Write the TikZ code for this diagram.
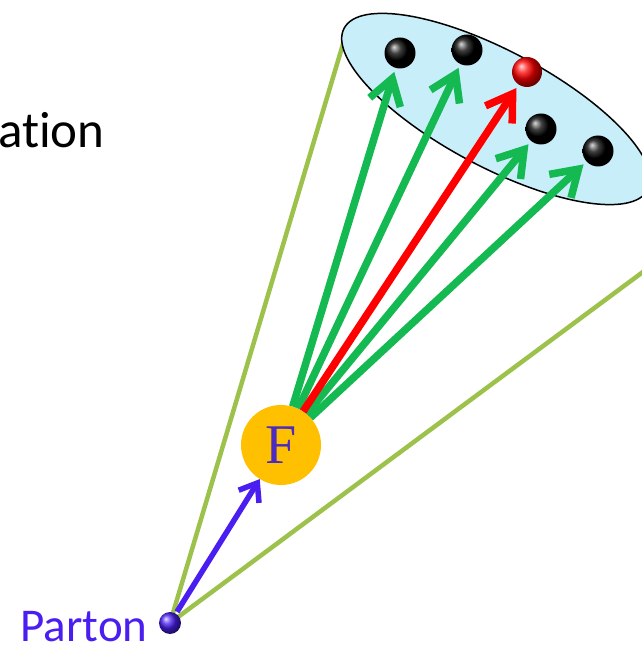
\documentclass[tikz,border=0pt]{standalone}
\usepackage{fontspec}
\newfontfamily\calibri[Ligatures={NoCommon,NoRequired,NoContextual}]{Carlito}
\newfontfamily\cambria{Liberation Serif}
\usetikzlibrary{arrows.meta,positioning}
\definecolor{conegreen}{HTML}{9DC24C}
\definecolor{jetgreen}{HTML}{14B952}
\definecolor{partonblue}{HTML}{4A1EF0}
\definecolor{fletter}{HTML}{4B2BC0}
\definecolor{fgold}{HTML}{FFC000}
\definecolor{hadronsky}{HTML}{C8EEFA}
\tikzset{
  cone/.style={conegreen,line width=4.5pt},
  hadron/.style={circle,minimum size=31pt,inner sep=0,shading=ball,ball color=black},
  jet/.style={jetgreen,line width=7.5pt,-{Straight Barb[length=25pt,width=32pt]},shorten >=4pt},
  pjet/.style={partonblue,line width=5.5pt,-{Straight Barb[length=16pt,width=24pt]},shorten <=2pt},
  fnode/.style={circle,fill=fgold,minimum size=80pt,inner sep=0,text=fletter,font=\cambria\fontsize{56}{56}\selectfont},
  lbl/.style={inner sep=0,font=\calibri\fontsize{47}{56}\selectfont}
}
\begin{document}
\begin{tikzpicture}[x=1pt,y=1pt]
\useasboundingbox (0,0) rectangle (642,645);
\clip (0,0) rectangle (642,645);
% cone
\coordinate (p) at (170,22);
\draw[cone] (p) -- (349,621);
\draw[cone] (p) -- (690,408);
% hadron cloud
\draw[line width=1.5pt,fill=hadronsky,rotate around={-28:(496,536)}] (496,536) ellipse (172pt and 58pt);
\node[hadron] (h1) at (400,592) {};
\node[hadron] (h2) at (467,595) {};
\node[hadron,ball color=red,minimum size=30pt] (h3) at (527,573) {};
\node[hadron] (h4) at (541,516) {};
\node[hadron] (h5) at (598,494) {};
% fragmentation
\node[fnode] (F) at (281,200) {F};
\draw[jet] (F) -- (h1);
\draw[jet] (F) -- (h2);
\draw[jet] (F) -- (h4);
\draw[jet] (F) -- (h5);
\draw[jet,red] (F) -- (h3);
% parton
\node[circle,minimum size=22pt,inner sep=0,shading=ball,ball color=partonblue] (P) at (p) {};
\draw[pjet] (P) -- (F);
\node[lbl,text=partonblue,anchor=base east] (plabel) at ([xshift=-11pt,yshift=-18pt]P.west) {Parton};
\node[lbl,font=\calibri\fontsize{51}{60}\selectfont,anchor=base west] (frag) at (-2,497) {ation};
\end{tikzpicture}
\end{document}
